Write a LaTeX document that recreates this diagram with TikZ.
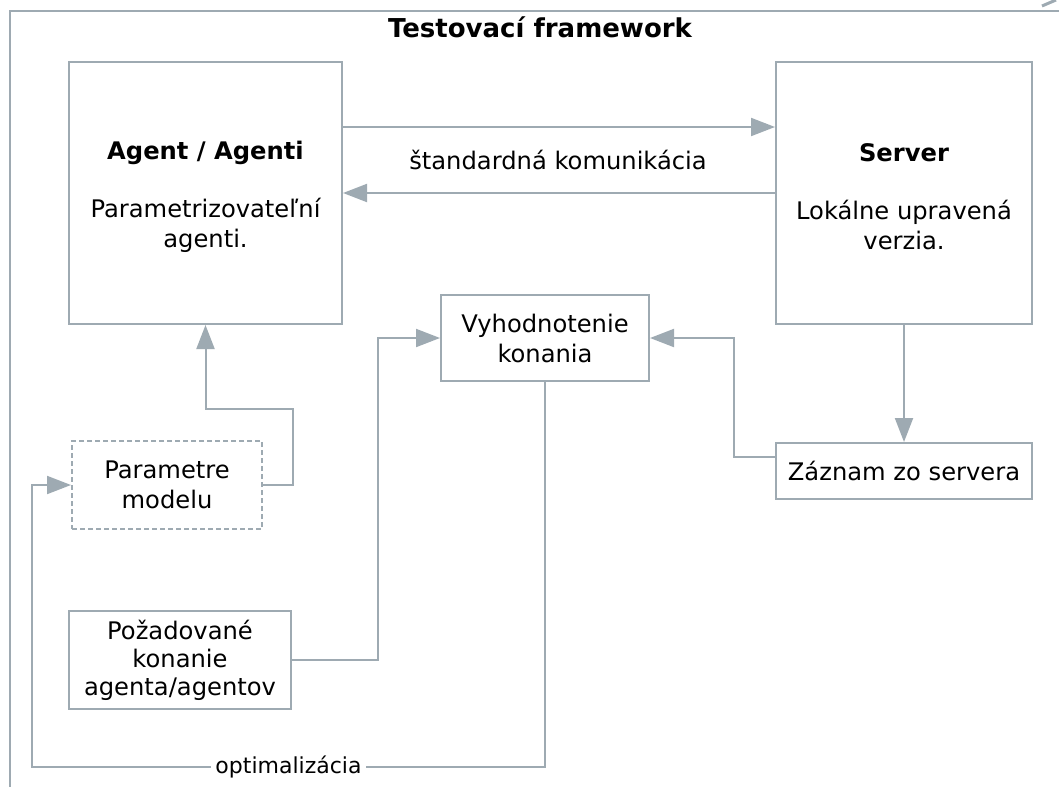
\documentclass[tikz,border=0pt]{standalone}
\usepackage{fontspec}
\setmainfont{DejaVu Sans}
\usepackage{xcolor}
\usetikzlibrary{arrows.meta,calc,positioning}
\definecolor{linegrey}{RGB}{158,170,178}
\tikzset{%
	block/.style    = {draw=linegrey, line width=1pt, rectangle, align=center, inner sep=0pt}, % Box
	dblock/.style   = {block, dash pattern=on 2.5pt off 1.5pt}, % Dashed box
	label/.style    = {fill=white, text=black, inner sep=2pt}, % Text on a line
	flow/.style     = {draw=linegrey, line width=1pt, -{Triangle[length=12pt,width=9pt]}, color=linegrey},
	link/.style     = {draw=linegrey, line width=1pt},
}

\begin{document}
\begin{tikzpicture}[x=0.5pt, y=-0.5pt, font=\fontsize{12.1}{15}\selectfont]
	\useasboundingbox (0,0) rectangle (1059,787);
	% frame
	\draw[link] (1059,11) -- (10,11) -- (10,787);
	\draw[link, line width=1.5pt] (1042,6) -- (1056,0);
	\node[font=\fontsize{13}{15}\selectfont\bfseries] (title) at (540,27) {Testovací framework};
	% boxes
	\node[block, minimum width=136.5pt, minimum height=131pt] (agent) at (205.5,193) {\rule{0pt}{13pt}\textbf{Agent / Agenti}\\[14pt]Parametrizovateľní\\agenti.};
	\node[block, minimum width=128pt, minimum height=131pt] (server) at (904,193) {\rule{0pt}{13pt}\textbf{Server}\\[14pt]Lokálne upravená\\verzia.};
	\node[block, minimum width=104pt, minimum height=43pt] (vyhod) at (545,338) {Vyhodnotenie\\konania};
	\node[block, minimum width=128pt, minimum height=28pt] (zaznam) at (904,471) {Záznam zo servera};
	\node[dblock, minimum width=95pt, minimum height=44pt] (param) at (167,485) {Parametre\\modelu};
	\node[block, minimum width=111pt, minimum height=49pt, font=\fontsize{12.1}{14}\selectfont] (pozad) at (180,660) {Požadované\\konanie\\agenta/agentov};
	\coordinate (optim) at (32,767);
	% connectors
	\draw[flow] ([yshift=33pt]agent.east) -- ([yshift=33pt]server.west);
	\draw[flow] (server.west) -- (agent.east);
	\node (kom) at (558,160) {štandardná komunikácia};
	\draw[flow] (server.south) -- (zaznam.north);
	\draw[flow] ([yshift=7pt]zaznam.west) -- ++(-20.5pt,0) |- (vyhod.east);
	\draw[flow] (pozad.east) -- ++(43pt,0) |- (vyhod.west);
	\draw[flow] (param.east) -| ++(15pt,38pt) -| (agent.south);
	\draw[flow] (vyhod.south) |- node[label, pos=0.75, font=\fontsize{11}{13}\selectfont] {optimalizácia} (optim) |- (param.west);
\end{tikzpicture}
\end{document}
